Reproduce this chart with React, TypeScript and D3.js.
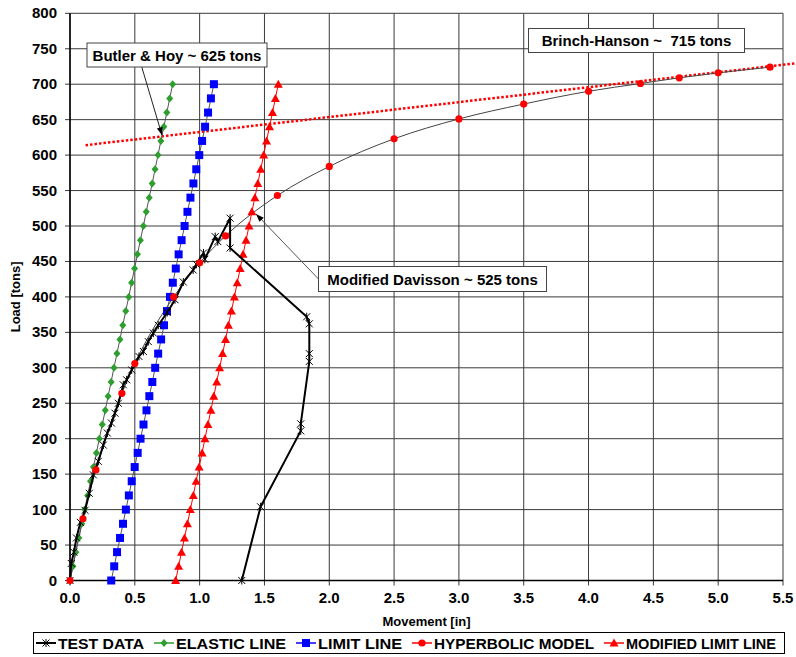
import React from "react";
import * as d3 from "d3";

// ---- data -------------------------------------------------------------
const X_TICKS = [0, 0.5, 1, 1.5, 2, 2.5, 3, 3.5, 4, 4.5, 5, 5.5];
const Y_TICKS = [0, 50, 100, 150, 200, 250, 300, 350, 400, 450, 500, 550, 600, 650, 700, 750, 800];

// load test: movement [in] vs load [tons]
const TEST_MOVE = [0, 0.01, 0.03, 0.05, 0.08, 0.116, 0.149, 0.18, 0.218, 0.257, 0.288, 0.32, 0.347, 0.373, 0.411, 0.437, 0.476, 0.532, 0.566, 0.604, 0.643, 0.681, 0.75, 0.81, 0.874, 0.95, 0.975, 1.03, 1.04, 1.12, 1.14, 1.235, 1.235, 1.826, 1.846, 1.846, 1.846, 1.78, 1.78, 1.47, 1.325];
const TEST_LOAD = [0, 24, 40, 60, 82, 99, 123, 149, 168, 191, 208, 222, 236, 250, 276, 283, 297, 316, 323, 337, 349, 360, 378, 396, 421, 438, 446, 462, 453, 485, 478, 511, 469, 372, 362, 320, 309, 221, 211, 104, 0];

// loads shared by the three straight reference lines
const LINE_LOAD = [0, 20, 40, 60, 80, 100, 120, 140, 160, 180, 200, 220, 240, 260, 280, 300, 320, 340, 360, 380, 400, 420, 440, 460, 480, 500, 520, 540, 560, 580, 600, 620, 640, 660, 680, 700];
const ELASTIC_MOVE = [0.000, 0.023, 0.045, 0.068, 0.091, 0.113, 0.136, 0.158, 0.181, 0.204, 0.226, 0.249, 0.272, 0.294, 0.317, 0.339, 0.362, 0.385, 0.407, 0.430, 0.453, 0.475, 0.498, 0.520, 0.543, 0.566, 0.588, 0.611, 0.634, 0.656, 0.679, 0.701, 0.724, 0.747, 0.769, 0.792];
const LIMIT_MOVE = [0.318, 0.341, 0.363, 0.386, 0.409, 0.431, 0.454, 0.476, 0.499, 0.522, 0.544, 0.567, 0.590, 0.612, 0.635, 0.657, 0.680, 0.703, 0.725, 0.748, 0.771, 0.793, 0.816, 0.838, 0.861, 0.884, 0.906, 0.929, 0.952, 0.974, 0.997, 1.019, 1.042, 1.065, 1.087, 1.110];
const MOD_LIMIT_MOVE = [0.815, 0.838, 0.860, 0.883, 0.906, 0.928, 0.951, 0.973, 0.996, 1.019, 1.041, 1.064, 1.087, 1.109, 1.132, 1.154, 1.177, 1.200, 1.222, 1.245, 1.268, 1.290, 1.313, 1.335, 1.358, 1.381, 1.403, 1.426, 1.449, 1.471, 1.494, 1.516, 1.539, 1.562, 1.584, 1.607];

// hyperbolic model
const HYP_MOVE = [0, 0.1, 0.2, 0.4, 0.5, 0.8, 1.0, 1.2, 1.6, 2.0, 2.5, 3.0, 3.5, 4.0, 4.4, 4.7, 5.0, 5.4];
const HYP_LOAD = [0, 87, 156, 264, 306, 400, 448, 486, 543, 584, 623, 651, 672, 690, 701, 709, 716, 724];

// Brinch-Hansen construction line
const BH_MOVE = [0.12, 5.6];
const BH_LOAD = [614, 729.5];

const LEGEND_LABELS = ["TEST DATA", "ELASTIC LINE", "LIMIT LINE", "HYPERBOLIC MODEL", "MODIFIED LIMIT LINE"];

// ---- layout -----------------------------------------------------------
const W = 796;
const H = 657;
const X0 = 70;
const X1 = 783;
const Y0 = 580.5;
const Y1 = 13.3;
const FONT = "'Liberation Sans', Arial, Helvetica, sans-serif";

const GREEN = "#2e9e2e";
const BLUE = "#0000ff";
const RED = "#ff0000";

type Pt = [number, number];
const zip = (xs: number[], ys: number[]): Pt[] => xs.map((v, i) => [v, ys[i]]);

function Marker({ kind, x, y }: { kind: string; x: number; y: number }) {
  if (kind === "star")
    return (
      <path
        d={`M${x - 3.5},${y - 3.5}L${x + 3.5},${y + 3.5}M${x - 3.5},${y + 3.5}L${x + 3.5},${y - 3.5}M${x},${y - 4}L${x},${y + 4}`}
        stroke="#000"
        strokeWidth={1}
        fill="none"
      />
    );
  if (kind === "diamond")
    return <path d={`M${x},${y - 4}L${x + 3.5},${y}L${x},${y + 4}L${x - 3.5},${y}Z`} fill={GREEN} />;
  if (kind === "square") return <rect x={x - 4} y={y - 4} width={8} height={8} fill={BLUE} />;
  if (kind === "triangle")
    return <path d={`M${x},${y - 4.5}L${x + 4.5},${y + 3.5}L${x - 4.5},${y + 3.5}Z`} fill={RED} />;
  return <circle cx={x} cy={y} r={3.6} fill={RED} />;
}

export default function App() {
  const x = d3.scaleLinear().domain([0, 5.5]).range([X0, X1]);
  const y = d3.scaleLinear().domain([0, 800]).range([Y0, Y1]);
  const line = d3.line<Pt>().x((d) => x(d[0])).y((d) => y(d[1]));
  const smooth = d3
    .line<Pt>()
    .x((d) => x(d[0]))
    .y((d) => y(d[1]))
    .curve(d3.curveMonotoneX);

  const test = zip(TEST_MOVE, TEST_LOAD);
  const elastic = zip(ELASTIC_MOVE, LINE_LOAD);
  const limit = zip(LIMIT_MOVE, LINE_LOAD);
  const modLimit = zip(MOD_LIMIT_MOVE, LINE_LOAD);
  const hyp = zip(HYP_MOVE, HYP_LOAD);
  const bh = zip(BH_MOVE, BH_LOAD);

  const legendSyms = ["star", "diamond", "square", "circle", "triangle"];
  const legendColors = ["#000", GREEN, BLUE, RED, RED];
  const legendTextW = [86, 110, 84, 160, 150];
  const legendX: number[] = [];
  let lx = 36;
  legendTextW.forEach((w) => {
    legendX.push(lx);
    lx += 22 + w + 10;
  });

  const arrowHead = (fx: number, fy: number, tx: number, ty: number) => {
    const a = Math.atan2(ty - fy, tx - fx);
    const L = 8;
    const s = 3;
    const bx = tx - L * Math.cos(a);
    const by = ty - L * Math.sin(a);
    return `M${tx},${ty}L${bx + s * Math.sin(a)},${by - s * Math.cos(a)}L${bx - s * Math.sin(a)},${by + s * Math.cos(a)}Z`;
  };

  return (
    <svg
      width={W}
      height={H}
      style={{ position: "absolute", left: 0, top: 0, background: "#fff" }}
      fontFamily={FONT}
    >
      {/* grid */}
      {Y_TICKS.map((t) => (
        <line key={"gy" + t} x1={X0 - 5} x2={X1} y1={y(t)} y2={y(t)} stroke="#3a3a3a" strokeWidth={1} />
      ))}
      {X_TICKS.map((t) => (
        <line key={"gx" + t} x1={x(t)} x2={x(t)} y1={Y1} y2={Y0 + 5} stroke="#3a3a3a" strokeWidth={1} />
      ))}
      <line x1={X0} x2={X0} y1={Y1} y2={Y0} stroke="#000" strokeWidth={1.5} />
      <line x1={X0} x2={X1} y1={Y0} y2={Y0} stroke="#000" strokeWidth={1.5} />

      {/* tick labels */}
      {Y_TICKS.map((t) => (
        <text key={"ly" + t} x={X0 - 13} y={y(t) + 5} textAnchor="end" fontSize={15} fontWeight="bold">
          {t}
        </text>
      ))}
      {X_TICKS.map((t) => (
        <text key={"lx" + t} x={x(t)} y={Y0 + 22} textAnchor="middle" fontSize={15} fontWeight="bold">
          {t.toFixed(1)}
        </text>
      ))}
      <text x={(X0 + X1) / 2} y={626} textAnchor="middle" fontSize={13} fontWeight="bold">
        Movement [in]
      </text>
      <text
        transform={`translate(20,${(Y0 + Y1) / 2}) rotate(-90)`}
        textAnchor="middle"
        fontSize={13}
        fontWeight="bold"
      >
        Load [tons]
      </text>

      {/* Brinch-Hansen line */}
      <path d={line(bh) || ""} stroke={RED} strokeWidth={2.5} strokeDasharray="2.5,2" fill="none" />

      {/* hyperbolic model */}
      <path d={smooth(hyp) || ""} stroke="#444" strokeWidth={1} fill="none" />

      {/* elastic, limit and modified limit lines */}
      <path d={line(elastic) || ""} stroke="#555" strokeWidth={1} fill="none" />
      {elastic.map((d, i) => (
        <Marker key={"e" + i} kind="diamond" x={x(d[0])} y={y(d[1])} />
      ))}
      <path d={line(limit) || ""} stroke="#555" strokeWidth={1} fill="none" />
      {limit.map((d, i) => (
        <Marker key={"l" + i} kind="square" x={x(d[0])} y={y(d[1])} />
      ))}
      <path d={line(modLimit) || ""} stroke={RED} strokeWidth={1} fill="none" />
      {modLimit.map((d, i) => (
        <Marker key={"m" + i} kind="triangle" x={x(d[0])} y={y(d[1])} />
      ))}

      {/* test data */}
      <path d={line(test) || ""} stroke="#000" strokeWidth={2} fill="none" strokeLinejoin="round" />
      {test.map((d, i) => (
        <Marker key={"t" + i} kind="star" x={x(d[0])} y={y(d[1])} />
      ))}

      {hyp.map((d, i) => (
        <Marker key={"h" + i} kind="circle" x={x(d[0])} y={y(d[1])} />
      ))}

      {/* annotations */}
      <line x1={141.7} y1={66.7} x2={x(0.71)} y2={y(628)} stroke="#222" strokeWidth={1} />
      <path d={arrowHead(141.7, 66.7, x(0.71), y(628))} fill="#000" />
      <rect x={87} y={43} width={180} height={24} fill="#fff" stroke="#444" strokeWidth={1} />
      <text x={177} y={61} textAnchor="middle" fontSize={15} fontWeight="bold">
        Butler &amp; Hoy ~ 625 tons
      </text>

      <rect x={528.5} y={28.5} width={216} height={24} fill="#fff" stroke="#444" strokeWidth={1} />
      <text x={636.5} y={46} textAnchor="middle" fontSize={15} fontWeight="bold" style={{ whiteSpace: "pre" }}>
        {"Brinch-Hanson ~  715 tons"}
      </text>

      <line x1={318.5} y1={279} x2={x(1.435)} y2={y(517)} stroke="#555" strokeWidth={1} />
      <path d={arrowHead(318.5, 279, x(1.435), y(517))} fill="#000" />
      <rect x={318.5} y={266.5} width={228} height={25} fill="#fff" stroke="#444" strokeWidth={1} />
      <text x={432.5} y={284.5} textAnchor="middle" fontSize={15} fontWeight="bold">
        Modified Davisson ~ 525 tons
      </text>

      {/* legend */}
      <rect x={33.5} y={632.5} width={751} height={21} fill="#fff" stroke="#000" strokeWidth={1} />
      {LEGEND_LABELS.map((lab, i) => {
        const sx = legendX[i];
        const cy = 643;
        return (
          <g key={lab}>
            <line x1={sx} x2={sx + 20} y1={cy} y2={cy} stroke={legendColors[i]} strokeWidth={i === 0 ? 2 : 1.5} />
            <Marker kind={legendSyms[i]} x={sx + 10} y={cy} />
            <text
              x={sx + 22}
              y={cy + 6}
              fontSize={15}
              fontWeight="bold"
              textLength={legendTextW[i]}
              lengthAdjust="spacingAndGlyphs"
            >
              {lab}
            </text>
          </g>
        );
      })}
    </svg>
  );
}
